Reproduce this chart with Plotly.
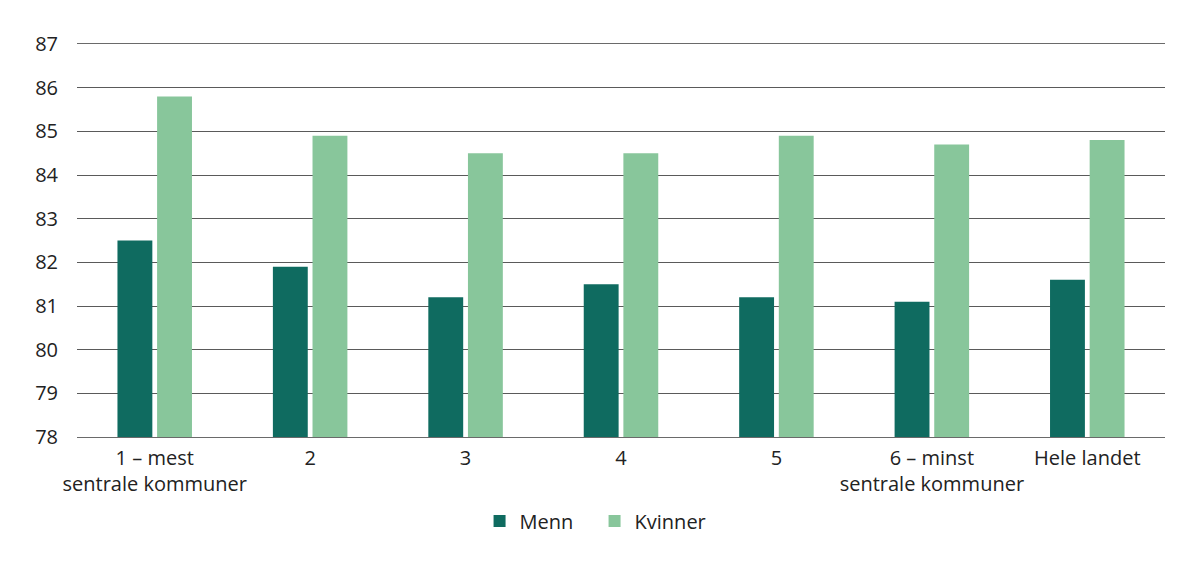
import plotly.graph_objects as go

# Categories and values
categories = ["1 – mest<br>sentrale kommuner", "2", "3", "4", "5",
              "6 – minst<br>sentrale kommuner", "Hele landet"]
menn = [82.5, 81.9, 81.2, 81.5, 81.2, 81.1, 81.6]
kvinner = [85.8, 84.9, 84.5, 84.5, 84.9, 84.7, 84.8]
y_ticks = [78, 79, 80, 81, 82, 83, 84, 85, 86, 87]

fig = go.Figure()
fig.add_trace(go.Bar(x=categories, y=menn, name="Menn", marker_color="#0f6b60",
                     marker_line_width=0))
fig.add_trace(go.Bar(x=categories, y=kvinner, name="Kvinner", marker_color="#88c69b",
                     marker_line_width=0))

fig.update_layout(
    width=1200, height=568,
    barmode="group", bargap=0.49, bargroupgap=0.12,
    plot_bgcolor="white", paper_bgcolor="white",
    font=dict(family="Open Sans", size=20, color="#222222"),
    # page body adds an 8px offset, margins compensate for it
    margin=dict(l=69, r=43, t=36, b=139, autoexpand=False),
    showlegend=True,
    legend=dict(orientation="h", x=0.4888, xanchor="center", xref="container",
                y=0.0968, yanchor="middle", yref="container",
                font=dict(size=20), traceorder="normal", entrywidth=70),
)
fig.update_yaxes(range=[78, 87], tickvals=y_ticks, showgrid=True, gridcolor="#5a5a5a",
                 gridwidth=1, zeroline=False, showline=False, ticks="",
                 ticklabelstandoff=18, automargin=False)
# top (87) and bottom (78) lines come from the mirrored x axis line
fig.update_xaxes(showline=True, mirror=True, linecolor="#6a6a6a", linewidth=1,
                 ticks="", showgrid=False, automargin=False, ticklabelstandoff=3)

fig.write_html("out.html")
